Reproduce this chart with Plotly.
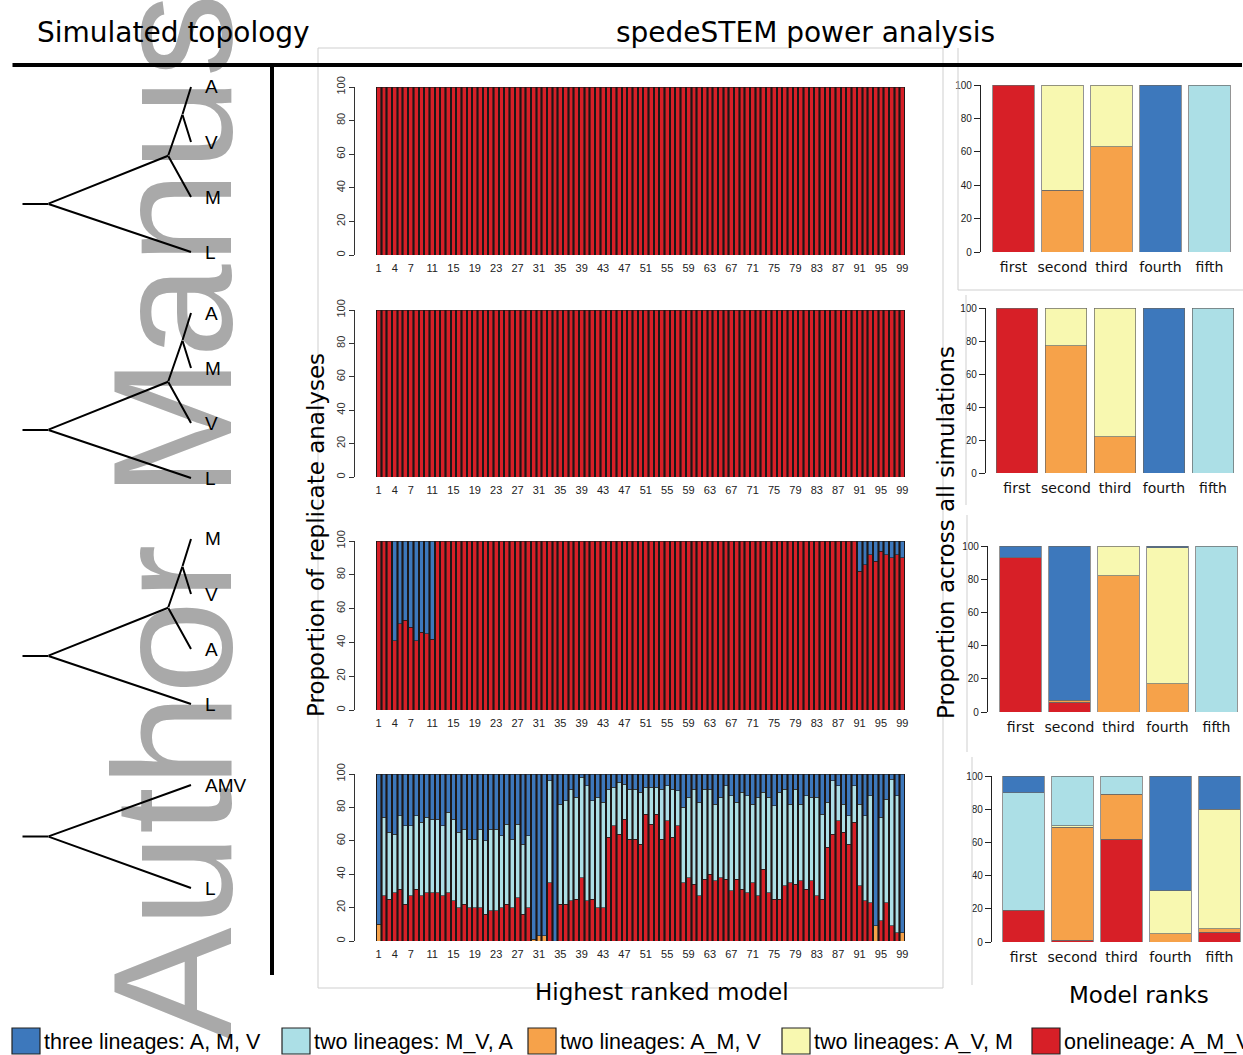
import plotly.graph_objects as go

W, H = 1243, 1055


def px(x):
    return x / W


def py(y):
    return 1 - y / H


# ------------------------------------------------------------------ data
bar_ids = list(range(1, 100))
bar_tick_labels = [1, 4, 7] + list(range(11, 100, 4))
rank_labels = ["first", "second", "third", "fourth", "fifth"]
pct_ticks = [0, 20, 40, 60, 80, 100]

series_names = ["three lineages: A, M, V", "two lineages: M_V, A",
                "two lineages: A_M, V", "two lineages: A_V, M",
                "onelineage: A_M_V"]

# panel 1 and 2: every replicate picked the one-lineage model
p1_red = [100] * 99
p2_red = [100] * 99

# panel 3
p3_red = [100, 100, 100, 41, 51, 53, 49, 41, 46, 45,
          42, 100, 100, 100, 100, 100, 100, 100, 100, 100,
          100, 100, 100, 100, 100, 100, 100, 100, 100, 100,
          100, 100, 100, 100, 100, 100, 100, 100, 100, 100,
          100, 100, 100, 100, 100, 100, 100, 100, 100, 100,
          100, 100, 100, 100, 100, 100, 100, 100, 100, 100,
          100, 100, 100, 100, 100, 100, 100, 100, 100, 100,
          100, 100, 100, 100, 100, 100, 100, 100, 100, 100,
          100, 100, 100, 100, 100, 100, 100, 100, 100, 100,
          82, 86, 92, 88, 94, 92, 90, 92, 90]
p3_blue = [100 - v for v in p3_red]

# panel 4
p4_red = [0, 27, 25, 29, 31, 22, 27, 31, 27, 29,
          29, 29, 27, 29, 24, 20, 22, 20, 20, 20,
          16, 18, 18, 20, 22, 20, 26, 16, 20, 0,
          0, 0, 35, 0, 22, 22, 24, 25, 38, 24,
          25, 20, 20, 62, 69, 64, 73, 61, 61, 58,
          76, 70, 76, 61, 72, 62, 69, 35, 38, 34,
          27, 37, 40, 36, 38, 37, 30, 37, 31, 29,
          35, 27, 43, 29, 25, 25, 33, 35, 34, 36,
          31, 36, 27, 25, 56, 64, 72, 65, 58, 71,
          33, 24, 23, 0, 12, 23, 9, 5, 0]
p4_lightblue = [0, 47, 40, 35, 44, 47, 42, 44, 44, 45,
                44, 44, 42, 48, 49, 45, 45, 41, 41, 47,
                44, 49, 49, 43, 48, 41, 44, 42, 43, 0,
                0, 0, 61, 0, 60, 62, 67, 61, 60, 69,
                59, 66, 63, 29, 23, 31, 21, 30, 30, 31,
                16, 22, 16, 30, 21, 29, 21, 45, 48, 57,
                56, 54, 51, 46, 48, 56, 57, 46, 58, 58,
                47, 59, 46, 57, 56, 64, 58, 47, 57, 46,
                56, 50, 59, 51, 27, 32, 21, 17, 17, 22,
                49, 51, 64, 0, 62, 62, 88, 82, 0]
p4_orange = [10, 0, 0, 0, 0, 0, 0, 0, 0, 0,
             0, 0, 0, 0, 0, 0, 0, 0, 0, 0,
             0, 0, 0, 0, 0, 0, 0, 0, 0, 1,
             3, 3, 0, 0, 0, 0, 0, 0, 0, 0,
             0, 0, 0, 0, 0, 0, 0, 0, 0, 0,
             0, 0, 0, 0, 0, 0, 0, 0, 0, 0,
             0, 0, 0, 0, 0, 0, 0, 0, 0, 0,
             0, 0, 0, 0, 0, 0, 0, 0, 0, 0,
             0, 0, 0, 0, 0, 0, 0, 0, 0, 0,
             0, 0, 0, 9, 0, 0, 0, 0, 5]
p4_blue = [100 - r - l - o for r, l, o in zip(p4_red, p4_lightblue, p4_orange)]

# model-rank summaries (percent across all simulations)
r1_red = [100, 0, 0, 0, 0]
r1_orange = [0, 37, 63, 0, 0]
r1_yellow = [0, 63, 37, 0, 0]
r1_lightblue = [0, 0, 0, 0, 100]
r1_blue = [0, 0, 0, 100, 0]

r2_red = [100, 0, 0, 0, 0]
r2_orange = [0, 77, 22, 0, 0]
r2_yellow = [0, 23, 78, 0, 0]
r2_lightblue = [0, 0, 0, 0, 100]
r2_blue = [0, 0, 0, 100, 0]

r3_red = [93, 6, 0, 0, 0]
r3_orange = [0, 1, 82, 17, 0]
r3_yellow = [0, 0, 18, 82, 0]
r3_lightblue = [0, 0, 0, 0, 100]
r3_blue = [7, 93, 0, 1, 0]

r4_red = [19, 1, 62, 0, 6]
r4_orange = [0, 68, 27, 5, 2]
r4_yellow = [0, 1, 0, 26, 72]
r4_lightblue = [71, 30, 11, 0, 0]
r4_blue = [10, 0, 0, 69, 20]

# simulated topologies: (node age, children)
tree_topologies = [
    (1.0, [(0.16, [(0.06, ["A", "V"]), "M"]), "L"]),
    (1.0, [(0.16, [(0.06, ["A", "M"]), "V"]), "L"]),
    (1.0, [(0.16, [(0.06, ["M", "V"]), "A"]), "L"]),
    (1.0, ["AMV", "L"]),
]

# ------------------------------------------------------------------ style
C_BLUE = "#3d78bc"
C_LBLUE = "#acdfe6"
C_ORANGE = "#f6a24a"
C_YELLOW = "#f8f8b0"
C_RED = "#d71f27"
series_colors = [C_BLUE, C_LBLUE, C_ORANGE, C_YELLOW, C_RED]

TITLE_FONT = "DejaVu Sans"
TEXT_FONT = "Liberation Sans"

fig = go.Figure()
annotations = []
shapes = []


def nz(vals):
    return [v if v else None for v in vals]


def axname(k):
    return ("x" if k == 1 else f"x{k}"), ("y" if k == 1 else f"y{k}")


def seg(x0, y0, x1, y1, w=2.0, color="black"):
    annotations.append(dict(
        x=px(x1), y=py(y1), xref="paper", yref="paper",
        ax=x0 - x1, ay=y0 - y1, axref="pixel", ayref="pixel",
        showarrow=True, arrowhead=0, arrowwidth=w, arrowcolor=color,
        text="", standoff=0, startstandoff=0, font=dict(size=1),
        borderpad=0))


def label(x, y, text, size, family=TEXT_FONT, angle=0, xanchor="center",
          yanchor="middle", color="black"):
    annotations.append(dict(
        x=px(x), y=py(y), xref="paper", yref="paper", text=text,
        showarrow=False, textangle=angle, xanchor=xanchor, yanchor=yanchor,
        font=dict(family=family, size=size, color=color)))


# watermark first so that everything else is drawn over it
annotations.append(dict(
    x=px(172), y=py(1042), xref="paper", yref="paper",
    text="Author Manuscript", showarrow=False, textangle=-90,
    xanchor="center", yanchor="bottom",
    font=dict(family=TEXT_FONT, size=168, color="#a9a9a9")))

layout = dict(
    width=W, height=H,
    margin=dict(l=0, r=0, t=0, b=0, pad=0, autoexpand=False),
    paper_bgcolor="white", plot_bgcolor="white", barmode="stack",
    showlegend=False, font=dict(family=TEXT_FONT, color="black"),
)

# ------------------------------------------------------------------ middle panels
mid_panels = [
    dict(y=(87, 255), stacks=[(p1_red, C_RED)]),
    dict(y=(310, 477), stacks=[(p2_red, C_RED)]),
    dict(y=(541, 710), stacks=[(p3_red, C_RED), (p3_blue, C_BLUE)]),
    dict(y=(774, 941), stacks=[(p4_red, C_RED), (p4_orange, C_ORANGE),
                               (p4_lightblue, C_LBLUE), (p4_blue, C_BLUE)]),
]
MID_X = (376, 905)
MID_AXIS_X = 354

for i, pnl in enumerate(mid_panels):
    k = i + 1
    xa, ya = axname(k)
    for vals, col in pnl["stacks"]:
        fig.add_trace(go.Bar(
            x=bar_ids, y=nz(vals), xaxis=xa, yaxis=ya, width=0.72,
            marker=dict(color=col, line=dict(color="#1a1a1a", width=0.6)),
            hoverinfo="skip"))
    yt, yb = pnl["y"]
    layout["xaxis" + xa[1:]] = dict(
        domain=[px(MID_X[0]), px(MID_X[1])], anchor=ya, range=[0.5, 99.5],
        tickmode="array", tickvals=bar_tick_labels,
        ticktext=[str(v) for v in bar_tick_labels], tickangle=0,
        ticks="outside", ticklen=3, tickcolor="rgba(0,0,0,0)",
        showgrid=False, zeroline=False, showline=False, automargin=False,
        tickfont=dict(size=11, color="#222", family=TEXT_FONT))
    layout["yaxis" + ya[1:]] = dict(
        domain=[py(yb), py(yt)], anchor="free", position=px(MID_AXIS_X),
        range=[0, 100], tickmode="array", tickvals=pct_ticks, tickangle=-90,
        ticks="outside", ticklen=5, tickcolor="#333", showline=True,
        linecolor="#333", linewidth=1, showgrid=False, zeroline=False,
        automargin=False,
        tickfont=dict(size=11, color="#333", family=TEXT_FONT))
    shapes.append(dict(type="rect", xref=f"{xa} domain", yref=f"{ya} domain",
                       x0=0, x1=1, y0=0, y1=1, layer="below",
                       fillcolor="#1f1515", line=dict(width=0)))

# ------------------------------------------------------------------ right panels
right_panels = [
    dict(ax=980, x0=989, x1=1234, y=(85, 252),
         s=[r1_red, r1_orange, r1_yellow, r1_lightblue, r1_blue]),
    dict(ax=985, x0=992.5, x1=1237.5, y=(308, 473),
         s=[r2_red, r2_orange, r2_yellow, r2_lightblue, r2_blue]),
    dict(ax=987, x0=996, x1=1241, y=(546, 712),
         s=[r3_red, r3_orange, r3_yellow, r3_lightblue, r3_blue]),
    dict(ax=991, x0=999, x1=1243, y=(776, 942),
         s=[r4_red, r4_orange, r4_yellow, r4_lightblue, r4_blue]),
]
stack_colors = [C_RED, C_ORANGE, C_YELLOW, C_LBLUE, C_BLUE]
UNIT = 49.0
for i, pnl in enumerate(right_panels):
    k = i + 5
    xa, ya = axname(k)
    for vals, col in zip(pnl["s"], stack_colors):
        fig.add_trace(go.Bar(
            x=[1, 2, 3, 4, 5], y=nz(vals), xaxis=xa, yaxis=ya, width=0.84,
            marker=dict(color=col, line=dict(color="#666", width=0.7)),
            hoverinfo="skip"))
    yt, yb = pnl["y"]
    layout["xaxis" + xa[1:]] = dict(
        domain=[px(pnl["x0"]), px(pnl["x1"])], anchor=ya,
        range=[0.5, 0.5 + (pnl["x1"] - pnl["x0"]) / UNIT],
        tickmode="array", tickvals=[1, 2, 3, 4, 5], ticktext=rank_labels,
        tickangle=0, ticks="outside", ticklen=2, tickcolor="rgba(0,0,0,0)",
        showgrid=False, zeroline=False, showline=False, automargin=False,
        tickfont=dict(size=14, color="#111", family=TITLE_FONT))
    layout["yaxis" + ya[1:]] = dict(
        domain=[py(yb), py(yt)], anchor="free", position=px(pnl["ax"]),
        range=[0, 100], tickmode="array", tickvals=pct_ticks,
        ticks="outside", ticklen=6, tickcolor="#222", showline=True,
        linecolor="#222", linewidth=1.3, showgrid=False, zeroline=False,
        automargin=False,
        tickfont=dict(size=10, color="#222", family=TEXT_FONT))

# ------------------------------------------------------------------ frames
gray = "#cfcfcf"
shapes.append(dict(type="rect", xref="paper", yref="paper",
                   x0=px(318), x1=px(943), y0=py(988), y1=py(48),
                   line=dict(color=gray, width=1), fillcolor="rgba(0,0,0,0)"))
for (x0, y0, x1, y1) in [(958, 48, 958, 290), (958, 290, 1243, 290),
                         (966, 295, 966, 505), (967, 515, 967, 752),
                         (972, 757, 972, 985)]:
    shapes.append(dict(type="line", xref="paper", yref="paper",
                       x0=px(x0), x1=px(x1), y0=py(y0), y1=py(y1),
                       line=dict(color=gray, width=1)))

# ------------------------------------------------------------------ trees
TIP_X = 191
AGE_SCALE = 143
tree_tip_start = [87, 313, 539, 785]
tree_tip_step = [55, 55, 55, 103]


def draw_tree(node, state):
    if isinstance(node, str):
        y = state["y"]
        state["y"] += state["step"]
        label(TIP_X + 12, y, node, 19, xanchor="left")
        return TIP_X, y
    age, children = node
    pts = [draw_tree(c, state) for c in children]
    x = TIP_X - age * AGE_SCALE
    y = sum(p[1] for p in pts) / len(pts)
    for cx, cy in pts:
        seg(x, y, cx, cy, 2.0)
    return x, y


for topo, y0, step in zip(tree_topologies, tree_tip_start, tree_tip_step):
    rx, ry = draw_tree(topo, {"y": y0, "step": step})
    seg(rx - 26, ry, rx, ry, 2.0)

# separators
seg(12, 65, 1243, 65, 4)
seg(272, 65, 272, 975, 4)

# ------------------------------------------------------------------ titles
label(173, 33, "Simulated topology", 28, family=TITLE_FONT)
label(805, 33, "spedeSTEM power analysis", 28, family=TITLE_FONT)
label(316, 535, "Proportion of replicate analyses", 23, family=TITLE_FONT, angle=-90)
label(662, 992, "Highest ranked model", 23, family=TITLE_FONT)
label(946, 533, "Proportion across all simulations", 23, family=TITLE_FONT, angle=-90)
label(1139, 995, "Model ranks", 23, family=TITLE_FONT)

# ------------------------------------------------------------------ legend
legend_left = [12, 282, 528, 782, 1032]
for lx, name, col in zip(legend_left, series_names, series_colors):
    shapes.append(dict(type="rect", xref="paper", yref="paper",
                       x0=px(lx), x1=px(lx + 28), y0=py(1054), y1=py(1028),
                       fillcolor=col, line=dict(color="#222", width=1.2),
                       layer="above"))
    label(lx + 30, 1042, name, 21.5, xanchor="left")

layout["annotations"] = annotations
layout["shapes"] = shapes
fig.update_layout(**layout)
fig.write_html("out.html",
               config={"displayModeBar": False},
               post_script="document.body.style.margin='0';"
                           "document.body.style.overflow='hidden';")
